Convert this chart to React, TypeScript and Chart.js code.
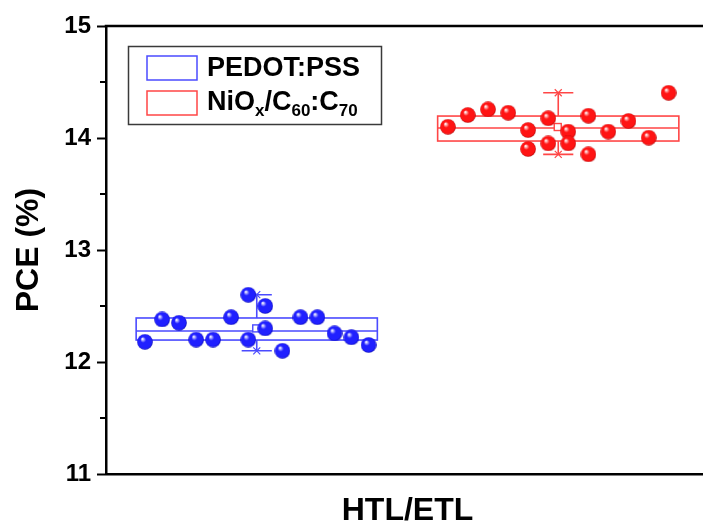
import React, { useEffect, useRef } from 'react';
import { Chart, registerables } from 'chart.js';

Chart.register(...registerables);

// ---- data ----
const groupNames = ['PEDOT:PSS', 'NiOx/C60:C70'];
const groupCenters = [1, 2];

const pedotX = [0.629, 0.686, 0.742, 0.799, 0.855, 0.915, 0.972, 1.028, 0.972, 1.028, 1.085, 1.145, 1.201, 1.258, 1.314, 1.371];
const pedotPCE = [12.18, 12.38, 12.35, 12.2, 12.2, 12.4, 12.6, 12.5, 12.2, 12.3, 12.1, 12.4, 12.4, 12.256, 12.22, 12.152];

const nioX = [1.634, 1.7, 1.767, 1.834, 1.9, 1.9, 1.967, 1.967, 2.033, 2.033, 2.1, 2.1, 2.166, 2.233, 2.3, 2.366];
const nioPCE = [14.1, 14.205, 14.256, 14.226, 14.071, 13.902, 14.176, 13.952, 14.057, 13.952, 14.199, 13.854, 14.057, 14.152, 14.003, 14.404];

const boxQ1 = [12.196, 13.973];
const boxMedian = [12.277, 14.089];
const boxQ3 = [12.393, 14.196];
const boxMean = [12.3, 14.098];
const boxMin = [12.1, 13.854];
const boxMax = [12.601, 14.404];

const yMajorTicks = [11, 12, 13, 14, 15];
const yMinorTicks = [11.5, 12.5, 13.5, 14.5];

// ---- styles ----
const FONT = "'Liberation Sans', Arial, sans-serif";
const lineColors = ['#4b4bff', '#ff4646'];
const ballColors = [
  { hi: '#eeeeff', mid: '#2020ff', edge: '#0000a8' },
  { hi: '#ffeeee', mid: '#ff1414', edge: '#a80000' },
];

function makeBall(c: { hi: string; mid: string; edge: string }) {
  const s = 16;
  const cv = document.createElement('canvas');
  cv.width = s;
  cv.height = s;
  const g = cv.getContext('2d')!;
  const grad = g.createRadialGradient(5.5, 5, 0.5, 8, 8, 8);
  grad.addColorStop(0, c.hi);
  grad.addColorStop(0.32, c.mid);
  grad.addColorStop(0.85, c.mid);
  grad.addColorStop(1, c.edge);
  g.fillStyle = grad;
  g.beginPath();
  g.arc(8, 8, 7.8, 0, Math.PI * 2);
  g.fill();
  return cv;
}

const boxPlugin = {
  id: 'boxPlugin',
  beforeDatasetsDraw(chart: any) {
    const { ctx, scales } = chart;
    const x = scales.x;
    const y = scales.y;
    groupCenters.forEach((c, i) => {
      const xl = x.getPixelForValue(c - 0.4);
      const xr = x.getPixelForValue(c + 0.4);
      const xc = x.getPixelForValue(c);
      const capL = x.getPixelForValue(c - 0.05);
      const capR = x.getPixelForValue(c + 0.05);
      const yq1 = y.getPixelForValue(boxQ1[i]);
      const yq3 = y.getPixelForValue(boxQ3[i]);
      const ymed = y.getPixelForValue(boxMedian[i]);
      const ymean = y.getPixelForValue(boxMean[i]);
      const ymin = y.getPixelForValue(boxMin[i]);
      const ymax = y.getPixelForValue(boxMax[i]);
      ctx.save();
      ctx.strokeStyle = lineColors[i];
      ctx.lineWidth = 1.6;
      ctx.strokeRect(xl, yq3, xr - xl, yq1 - yq3);
      ctx.beginPath();
      ctx.moveTo(xl, ymed);
      ctx.lineTo(xr, ymed);
      ctx.moveTo(xc, yq3);
      ctx.lineTo(xc, ymax);
      ctx.moveTo(xc, yq1);
      ctx.lineTo(xc, ymin);
      ctx.moveTo(capL, ymax);
      ctx.lineTo(capR, ymax);
      ctx.moveTo(capL, ymin);
      ctx.lineTo(capR, ymin);
      ctx.stroke();
      ctx.lineWidth = 1.2;
      [ymax, ymin].forEach((yy) => {
        ctx.beginPath();
        ctx.moveTo(xc - 3.5, yy - 3.5);
        ctx.lineTo(xc + 3.5, yy + 3.5);
        ctx.moveTo(xc + 3.5, yy - 3.5);
        ctx.lineTo(xc - 3.5, yy + 3.5);
        ctx.stroke();
      });
      ctx.lineWidth = 1.4;
      ctx.fillStyle = '#ffffff';
      ctx.fillRect(xc - 4, ymean - 3.5, 7, 7);
      ctx.strokeRect(xc - 4, ymean - 3.5, 7, 7);
      ctx.restore();
    });
  },
  afterDraw(chart: any) {
    const { ctx, chartArea, scales } = chart;
    const y = scales.y;
    ctx.save();
    ctx.strokeStyle = '#000';
    ctx.lineWidth = 2.5;
    ctx.beginPath();
    ctx.moveTo(chartArea.left - 1.25, chartArea.top);
    ctx.lineTo(chartArea.right, chartArea.top);
    ctx.stroke();
    ctx.lineWidth = 2;
    ctx.beginPath();
    yMinorTicks.forEach((v) => {
      const py = y.getPixelForValue(v);
      ctx.moveTo(chartArea.left - 6, py);
      ctx.lineTo(chartArea.left, py);
    });
    ctx.stroke();

    // legend
    ctx.lineWidth = 1.5;
    ctx.strokeStyle = '#3a3a3a';
    ctx.strokeRect(128.5, 46.5, 253, 78);
    ctx.strokeStyle = lineColors[0];
    ctx.strokeRect(147, 56, 50, 24);
    ctx.strokeStyle = lineColors[1];
    ctx.strokeRect(147, 91, 50, 24);

    ctx.fillStyle = '#000';
    ctx.textBaseline = 'alphabetic';
    ctx.textAlign = 'left';
    const main = `bold 27px ${FONT}`;
    const sub = `bold 17px ${FONT}`;
    ctx.font = main;
    ctx.fillText(groupNames[0], 207, 76);
    const parts: [string, boolean][] = [
      ['NiO', false],
      ['x', true],
      ['/C', false],
      ['60', true],
      [':C', false],
      ['70', true],
    ];
    let px = 207;
    parts.forEach(([t, isSub]) => {
      ctx.font = isSub ? sub : main;
      ctx.fillText(t, px, isSub ? 116 : 110);
      px += ctx.measureText(t).width;
    });
    ctx.restore();
  },
};

export default function App() {
  const ref = useRef<HTMLCanvasElement | null>(null);

  useEffect(() => {
    if (!ref.current) return;
    const blueBall = makeBall(ballColors[0]);
    const redBall = makeBall(ballColors[1]);
    const chart = new Chart(ref.current, {
      type: 'scatter',
      data: {
        datasets: [
          {
            label: groupNames[0],
            data: pedotX.map((xv, i) => ({ x: xv, y: pedotPCE[i] })),
            pointStyle: blueBall as any,
            pointRadius: 8,
            pointHoverRadius: 8,
          },
          {
            label: groupNames[1],
            data: nioX.map((xv, i) => ({ x: xv, y: nioPCE[i] })),
            pointStyle: redBall as any,
            pointRadius: 8,
            pointHoverRadius: 8,
          },
        ],
      },
      options: {
        animation: false,
        responsive: false,
        devicePixelRatio: 1,
        events: [],
        layout: { padding: { top: 26, left: 0, right: 0, bottom: 0 } },
        plugins: {
          legend: { display: false },
          tooltip: { enabled: false },
        },
        scales: {
          x: {
            type: 'linear',
            min: 0.5,
            max: 2.5,
            ticks: { display: false },
            grid: { display: false },
            border: { display: true, color: '#000', width: 2.5 },
            title: {
              display: true,
              text: 'HTL/ETL',
              color: '#000',
              font: { family: FONT, size: 32, weight: 'bold', lineHeight: 0.65 },
              padding: { top: 0, bottom: 0 },
            },
            afterFit: (s: any) => {
              s.height = 48;
            },
          },
          y: {
            type: 'linear',
            min: yMajorTicks[0],
            max: yMajorTicks[yMajorTicks.length - 1],
            afterBuildTicks: (s: any) => {
              s.ticks = yMajorTicks.map((v) => ({ value: v }));
            },
            ticks: {
              color: '#000',
              font: { family: FONT, size: 24, weight: 'bold' },
              padding: 6,
              callback: (v: any) => String(v),
            },
            grid: {
              drawOnChartArea: false,
              tickLength: 9,
              tickWidth: 2,
              tickColor: '#000',
            },
            border: { display: true, color: '#000', width: 2.5 },
            title: {
              display: true,
              text: 'PCE (%)',
              color: '#000',
              font: { family: FONT, size: 32, weight: 'bold', lineHeight: 1.2 },
              padding: { top: 10, bottom: 0 },
            },
            afterFit: (s: any) => {
              s.width = 106;
            },
          },
        },
      },
      plugins: [boxPlugin],
    });
    return () => chart.destroy();
  }, []);

  return (
    <div
      style={{
        position: 'fixed',
        left: 0,
        top: 0,
        width: 703,
        height: 522,
        overflow: 'hidden',
        background: '#fff',
      }}
    >
      <canvas ref={ref} width={718} height={522} style={{ display: 'block' }} />
    </div>
  );
}
